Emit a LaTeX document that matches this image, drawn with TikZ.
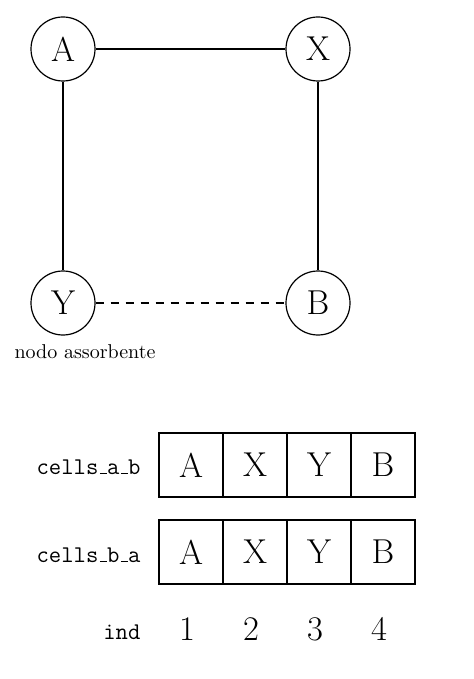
\documentclass[tikz,border=0pt]{standalone}
\newcommand\myul{\leavevmode\kern.06em\vbox{\hrule width.3em}}
\begin{document}
\begin{tikzpicture}[x=0.5pt,y=-0.5pt,
  every path/.style={line width=0.6pt},
  vert/.style={draw,circle,minimum size=64*0.5pt,inner sep=0pt,font=\LARGE},
  cell/.style={draw,minimum width=64*0.5pt,minimum height=64*0.5pt,inner sep=0pt,font=\LARGE},
  lab/.style={anchor=east,inner sep=0pt,font=\fontsize{12}{14}\selectfont\ttfamily},
  num/.style={font=\LARGE},
  dline/.style={dash pattern=on 4pt off 3.5pt}]
\useasboundingbox (0,0) rectangle (474,679);
\node[vert] (A) at (63,49) {A};
\node[vert] (X) at (318,49) {X};
\node[vert] (Y) at (63,303) {Y};
\node[vert] (B) at (318,303) {B};
\draw (A) -- (X);
\draw (A) -- (Y);
\draw (X) -- (B);
\draw[dline] (Y) -- (B);
\node (nl) at (85,352) {nodo assorbente};
\node[cell] (r1c1) at (191,465) {A};
\node[cell] (r1c2) at (255,465) {X};
\node[cell] (r1c3) at (319,465) {Y};
\node[cell] (r1c4) at (383,465) {B};
\node[cell] (r2c1) at (191,552) {A};
\node[cell] (r2c2) at (255,552) {X};
\node[cell] (r2c3) at (319,552) {Y};
\node[cell] (r2c4) at (383,552) {B};
\node[lab] (l1) at (141,467) {cells\myul a\myul b};
\node[lab] (l2) at (141,555) {cells\myul b\myul a};
\node[lab] (l3) at (141,632) {ind};
\node[num] (n1) at (187,629) {1};
\node[num] (n2) at (251,629) {2};
\node[num] (n3) at (315,629) {3};
\node[num] (n4) at (379,629) {4};
\end{tikzpicture}
\end{document}
